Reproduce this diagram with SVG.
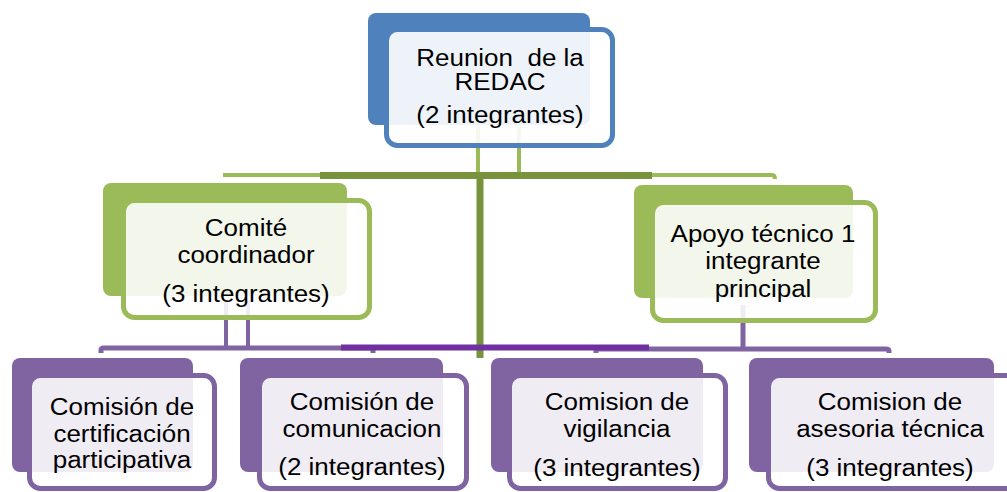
<svg xmlns="http://www.w3.org/2000/svg" width="1007" height="492" viewBox="0 0 1007 492">
<style>
.t{font-family:"Liberation Sans",Arial,sans-serif;font-size:23px;fill:#000;text-anchor:middle}
.bb{fill:#4F81BD}.bf{fill:#fff;fill-opacity:0.9;stroke:#4F81BD;stroke-width:5}
.gb{fill:#9BBB59}.gf{fill:#fff;fill-opacity:0.88;stroke:#9BBB59;stroke-width:5}
.pb{fill:#8064A2}.pf{fill:#fff;fill-opacity:0.88;stroke:#8064A2;stroke-width:5}
.c{fill:none;stroke-linecap:butt}
</style>
<rect width="1007" height="492" fill="#fff"/>
<g id="connectors">
<path class="c" d="M478,125 V175 M519,125 V175" stroke="#9BBB59" stroke-width="4"/>
<path class="c" d="M223,175 H322" stroke="#9BBB59" stroke-width="4" stroke-linecap="round"/>
<path class="c" d="M650,175 H772 Q775,175 775,179" stroke="#9BBB59" stroke-width="4"/>
<path class="c" d="M320,175.5 H652" stroke="#77933C" stroke-width="7"/>
<path class="c" d="M480,172 V358" stroke="#77933C" stroke-width="7"/>
<path class="c" d="M226,300 V348 M248,300 V348" stroke="#8064A2" stroke-width="4"/>
<path class="c" d="M101,353 V350 Q101,348 104,348 H370 Q373,348 373,350 V353" stroke="#8064A2" stroke-width="5"/>
<path class="c" d="M743,305 V349" stroke="#8064A2" stroke-width="5"/>
<path class="c" d="M596,353 V351 Q596,349 599,349 H886 Q889,349 889,351 V353" stroke="#8064A2" stroke-width="5"/>
<path class="c" d="M341,347.5 H649" stroke="#7030A0" stroke-width="6"/>
</g>
<g id="node-redac">
<rect class="bb" x="368" y="13" width="222" height="112" rx="8"/>
<rect class="bf" x="386.5" y="29.5" width="226" height="116" rx="11"/>
<g transform="translate(500 0) scale(1.13 1)">
<text class="t" x="0" y="65.7" xml:space="preserve">Reunion  de la</text>
<text class="t" x="0" y="90">REDAC</text>
<text class="t" x="0" y="123.3">(2 integrantes)</text>
</g>
</g>
<g id="node-comite">
<rect class="gb" x="103" y="183" width="244" height="113" rx="8"/>
<rect class="gf" x="123.5" y="200.5" width="246" height="117" rx="11"/>
<g transform="translate(246 0) scale(1.13 1)">
<text class="t" x="0" y="235.6">Comité</text>
<text class="t" x="0" y="263">coordinador</text>
<text class="t" x="0" y="301.7">(3 integrantes)</text>
</g>
</g>
<g id="node-apoyo">
<rect class="gb" x="634" y="185" width="219" height="113" rx="8"/>
<rect class="gf" x="652.5" y="202.5" width="223" height="118" rx="11"/>
<g transform="translate(763 0) scale(1.13 1)">
<text class="t" x="0" y="241.7">Apoyo técnico 1</text>
<text class="t" x="0" y="269">integrante</text>
<text class="t" x="0" y="296.7">principal</text>
</g>
</g>
<g id="node-certificacion">
<rect class="pb" x="12" y="358" width="181" height="114" rx="8"/>
<rect class="pf" x="29.5" y="375.5" width="185" height="113" rx="11"/>
<g transform="translate(122 0) scale(1.13 1)">
<text class="t" x="0" y="415">Comisión de</text>
<text class="t" x="0" y="441.7">certificación</text>
<text class="t" x="0" y="468">participativa</text>
</g>
</g>
<g id="node-comunicacion">
<rect class="pb" x="240" y="358" width="203" height="114" rx="8"/>
<rect class="pf" x="259.5" y="375.5" width="207" height="113" rx="11"/>
<g transform="translate(362 0) scale(1.13 1)">
<text class="t" x="0" y="410">Comisión de</text>
<text class="t" x="0" y="437">comunicacion</text>
<text class="t" x="0" y="475">(2 integrantes)</text>
</g>
</g>
<g id="node-vigilancia">
<rect class="pb" x="491" y="358" width="212" height="114" rx="8"/>
<rect class="pf" x="509.5" y="375.5" width="216" height="113" rx="11"/>
<g transform="translate(617 0) scale(1.13 1)">
<text class="t" x="0" y="410">Comision de</text>
<text class="t" x="0" y="436.7">vigilancia</text>
<text class="t" x="0" y="476">(3 integrantes)</text>
</g>
</g>
<g id="node-asesoria">
<rect class="pb" x="749" y="358" width="245" height="114" rx="8"/>
<rect class="pf" x="768.5" y="375.5" width="250" height="113" rx="11"/>
<g transform="translate(890 0) scale(1.13 1)">
<text class="t" x="0" y="410">Comision de</text>
<text class="t" x="0" y="436.7">asesoria técnica</text>
<text class="t" x="0" y="476">(3 integrantes)</text>
</g>
</g>
</svg>
